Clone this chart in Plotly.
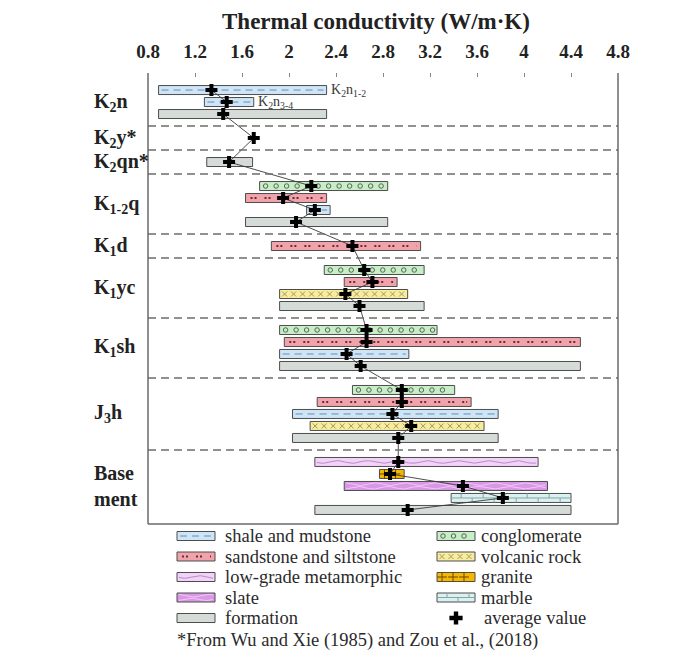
import numpy as np
import plotly.graph_objects as go

# ---------------- data ----------------
# row index (top -> bottom), lithology, min, max, average thermal conductivity
rows = [0, 1, 2, 4, 6, 8, 9, 10, 11, 13, 15, 16, 17, 18, 20, 21, 22, 23,
        25, 26, 27, 28, 29, 31, 32, 33, 34, 35]
litho = ["shale", "shale", "formation", None, "formation",
         "conglomerate", "sandstone", "shale", "formation",
         "sandstone",
         "conglomerate", "sandstone", "volcanic", "formation",
         "conglomerate", "sandstone", "shale", "formation",
         "conglomerate", "sandstone", "shale", "volcanic", "formation",
         "metamorphic", "granite", "slate", "marble", "formation"]
kmin = [0.89, 1.28, 0.89, None, 1.30,
        1.75, 1.63, 2.15, 1.63,
        1.85,
        2.30, 2.47, 1.92, 1.92,
        1.92, 1.96, 1.92, 1.92,
        2.54, 2.24, 2.03, 2.18, 2.03,
        2.22, 2.77, 2.47, 3.38, 2.22]
kmax = [2.32, 1.70, 2.32, None, 1.69,
        2.84, 2.32, 2.35, 2.84,
        3.12,
        3.15, 2.92, 3.01, 3.15,
        3.26, 4.48, 3.02, 4.48,
        3.41, 3.55, 3.78, 3.66, 3.78,
        4.12, 2.98, 4.20, 4.40, 4.40]
kavg = [1.34, 1.47, 1.44, 1.70, 1.49,
        2.19, 1.95, 2.22, 2.06,
        2.54,
        2.64, 2.71, 2.48, 2.60,
        2.66, 2.66, 2.49, 2.61,
        2.96, 2.96, 2.88, 3.04, 2.93,
        2.93, 2.86, 3.48, 3.82, 3.01]

units = ["K<sub>2</sub>n", "K<sub>2</sub>y*", "K<sub>2</sub>qn*", "K<sub>1-2</sub>q",
         "K<sub>1</sub>d", "K<sub>1</sub>yc", "K<sub>1</sub>sh", "J<sub>3</sub>h",
         "Base<br>ment"]
unit_rows = [1, 4, 6, 9.5, 13, 16.5, 21.5, 27, 33]
separators = [3, 5, 7, 12, 14, 19, 24, 30]
sub_labels = ["K<sub>2</sub>n<sub>1-2</sub>", "K<sub>2</sub>n<sub>3-4</sub>"]
sub_label_idx = [0, 1]

tick_vals = [0.8, 1.2, 1.6, 2.0, 2.4, 2.8, 3.2, 3.6, 4.0, 4.4, 4.8]
tick_text = ["0.8", "1.2", "1.6", "2", "2.4", "2.8", "3.2", "3.6", "4", "4.4", "4.8"]

legend_left = [("shale", "shale and mudstone"), ("sandstone", "sandstone and siltstone"),
               ("metamorphic", "low-grade metamorphic"), ("slate", "slate"),
               ("formation", "formation")]
legend_right = [("conglomerate", "conglomerate"), ("volcanic", "volcanic rock"),
                ("granite", "granite"), ("marble", "marble"), ("avg", "average value")]
footnote = "*From Wu and Xie (1985) and Zou et al., (2018)"

# ---------------- layout / styles ----------------
OFF = 8                       # page body margin
WIN_W, WIN_H = 684, 663
W, H = WIN_W - OFF, WIN_H - OFF
PL, PR, PT, PB = 148, 618, 73, 524          # plot area in window pixels
XR = [0.8, 4.8]
YR = [36.17, -1.42]
SERIF = "Liberation Serif, Times New Roman, serif"
OUTLINE = "#4d4d4d"
FILL = {"shale": "#cde5f7", "sandstone": "#f0a3ab", "conglomerate": "#c8eec8",
        "volcanic": "#f6ed9e", "granite": "#f5b700", "metamorphic": "#f2d2f7",
        "slate": "#d898e6", "marble": "#d9f1f1", "formation": "#d5dcd8"}


def px_x(px):
    return (px - OFF) / W


def px_y(py):
    return 1 - (py - OFF) / H


SX = (PR - PL) / (XR[1] - XR[0])   # px per x unit
SY = (PB - PT) / (YR[0] - YR[1])   # px per y unit
BAR_H = 9.0                         # bar height in px


def sym_marks(xs, yc, symbol, size, color, common):
    return go.Scatter(x=xs, y=[yc] * len(xs), mode="markers",
                      marker=dict(symbol=symbol, size=size, color=color,
                                  line=dict(color=color, width=1)), **common)


def decorate(kind, x0, x1, yc, sx, sy, xa, ya):
    tr = []
    common = dict(xaxis=xa, yaxis=ya, showlegend=False, hoverinfo="skip")
    if kind == "shale":
        tr.append(go.Scatter(x=[x0 + 3 / sx, x1 - 3 / sx], y=[yc, yc], mode="lines",
                             line=dict(color="#6d8cae", width=1, dash="7px,5px"), **common))
    elif kind == "sandstone":
        tr.append(go.Scatter(x=[x0 + 5 / sx, x1 - 4 / sx], y=[yc, yc], mode="lines",
                             line=dict(color="#6e2a36", width=2, dash="2px,2px,2px,8px"), **common))
    elif kind == "conglomerate":
        xs = np.arange(x0 + 6 / sx, x1 - 3 / sx, 10.5 / sx)
        tr.append(sym_marks(xs, yc, "circle-open", 4.5, "#566656", common))
    elif kind == "volcanic":
        xs = np.arange(x0 + 5 / sx, x1 - 3 / sx, 9.0 / sx)
        tr.append(sym_marks(xs, yc, "x-thin-open", 5, "#a89660", common))
    elif kind == "granite":
        xs = np.arange(x0 + 5 / sx, x1 - 2 / sx, 11.0 / sx)
        tr.append(sym_marks(xs, yc, "cross-thin-open", 7, "#6a4500", common))
    elif kind in ("metamorphic", "slate"):
        xs = np.linspace(x0 + 2 / sx, x1 - 2 / sx, 200)
        ph = 2 * np.pi * (xs - x0) * sx / 30.0
        offs = [0.0] if kind == "metamorphic" else [-1.8, 1.8]
        col = "#b68dc9" if kind == "metamorphic" else "#f3c6f7"
        for o in offs:
            tr.append(go.Scatter(x=xs, y=yc + (o + 1.3 * np.sin(ph + o)) / sy, mode="lines",
                                 line=dict(color=col, width=1), **common))
    elif kind == "marble":
        hx, hy = [x0, x1, None], [yc, yc, None]
        half = BAR_H / 2 / sy
        for k, xv in enumerate(np.arange(x0 + 10 / sx, x1 - 2 / sx, 11.0 / sx)):
            if k % 2 == 0:
                hx += [xv, xv, None]; hy += [yc - half, yc, None]
            else:
                hx += [xv, xv, None]; hy += [yc, yc + half, None]
        tr.append(go.Scatter(x=hx, y=hy, mode="lines",
                             line=dict(color="#8aa3a3", width=1), **common))
    return tr


def bar(kind, x0, x1, yc, h, xa, ya):
    return go.Bar(orientation="h", y=[yc], base=[x0], x=[x1 - x0], width=[h],
                  marker=dict(color=FILL[kind], line=dict(color=OUTLINE, width=1)),
                  xaxis=xa, yaxis=ya, showlegend=False, hoverinfo="skip")


fig = go.Figure()

# ---- main chart bars ----
for r, k, a, b in zip(rows, litho, kmin, kmax):
    if k is None:
        continue
    fig.add_trace(bar(k, a, b, r, BAR_H / SY, "x", "y"))
    for t in decorate(k, a, b, r, SX, SY, "x", "y"):
        fig.add_trace(t)

# connector line and averages
fig.add_trace(go.Scatter(x=kavg, y=rows, mode="lines", line=dict(color="#3a3a3a", width=0.9),
                         showlegend=False, hoverinfo="skip"))
fig.add_trace(go.Scatter(x=kavg, y=rows, mode="markers",
                         marker=dict(symbol="cross", size=10, color="black"),
                         showlegend=False, hoverinfo="skip"))

# ---- legend (window-pixel axes) ----
leg_rows = [536, 556.5, 577, 597.5, 618]
for col, (sx0, sx1, tx) in zip([legend_left, legend_right], [(177, 215, 223), (437, 475, 479)]):
    for (kind, label), yy in zip(col, leg_rows):
        if kind == "avg":
            fig.add_trace(go.Scatter(x=[456], y=[yy], mode="markers", xaxis="x2", yaxis="y2",
                                     marker=dict(symbol="cross", size=11, color="black"),
                                     showlegend=False, hoverinfo="skip"))
            txx = 482
        else:
            fig.add_trace(bar(kind, sx0, sx1, yy, 9, "x2", "y2"))
            for t in decorate(kind, sx0, sx1, yy, 1.0, 1.0, "x2", "y2"):
                fig.add_trace(t)
            txx = tx
        fig.add_annotation(x=txx, y=yy, xref="x2", yref="y2", text=label, showarrow=False,
                           xanchor="left", yanchor="middle",
                           font=dict(family=SERIF, size=18.5, color="#2a2a2a"))
fig.add_annotation(x=175, y=640, xref="x2", yref="y2", text=footnote, showarrow=False,
                   xanchor="left", yanchor="middle", font=dict(family=SERIF, size=18.5, color="#2a2a2a"))

# ---- unit labels ----
for u, ry in zip(units, unit_rows):
    fig.add_annotation(x=px_x(92), y=ry, xref="paper", yref="y", text=u, showarrow=False,
                       xanchor="left", yanchor="middle", align="left",
                       font=dict(family=SERIF, size=20, color="#222", weight="bold"))
for lab, i in zip(sub_labels, sub_label_idx):
    fig.add_annotation(x=kmax[i] + 0.02, y=rows[i], xref="x", yref="y", text=lab, showarrow=False,
                       xanchor="left", yanchor="middle",
                       font=dict(family=SERIF, size=14, color="#3a3a3a"))

# title
fig.add_annotation(x=px_x(376), y=px_y(21), xref="paper", yref="paper",
                   text="Thermal conductivity (W/m·K)", showarrow=False,
                   xanchor="center", yanchor="middle",
                   font=dict(family=SERIF, size=23, color="#222", weight="bold"))

# separators & frame
for s in separators:
    fig.add_shape(type="line", xref="x domain", yref="y", x0=0, x1=1, y0=s, y1=s,
                  line=dict(color="#6e6e6e", width=1.5, dash="8px,5px"))
frame = dict(color="#6a6a6a", width=1.5)
fig.add_shape(type="line", xref="x domain", yref="y domain", x0=0, x1=0, y0=0, y1=1, line=frame)
fig.add_shape(type="line", xref="x domain", yref="y domain", x0=1, x1=1, y0=0, y1=1, line=frame)
fig.add_shape(type="line", xref="x domain", yref="y domain", x0=0, x1=1, y0=0, y1=0, line=frame)

fig.update_layout(
    width=W, height=H, margin=dict(l=0, r=0, t=0, b=0, pad=0, autoexpand=False),
    paper_bgcolor="white", plot_bgcolor="rgba(0,0,0,0)", barmode="overlay",
    showlegend=False,
    xaxis=dict(domain=[px_x(PL), px_x(PR)], range=XR, side="top", anchor="y", automargin=False,
               tickvals=tick_vals, ticktext=tick_text, ticks="inside", ticklen=4,
               tickcolor="#888", showgrid=False, zeroline=False, showline=False,
               ticklabelstandoff=10,
               tickfont=dict(family=SERIF, size=19, color="#222", weight="bold")),
    yaxis=dict(domain=[px_y(PB), px_y(PT)], range=YR, anchor="x", showticklabels=False,
               automargin=False, showgrid=False, zeroline=False, showline=False, ticks=""),
    xaxis2=dict(domain=[0, 1], range=[OFF, WIN_W], anchor="y2", visible=False, automargin=False),
    yaxis2=dict(domain=[0, 1], range=[WIN_H, OFF], anchor="x2", visible=False, automargin=False),
)

fig.write_html("out.html")
